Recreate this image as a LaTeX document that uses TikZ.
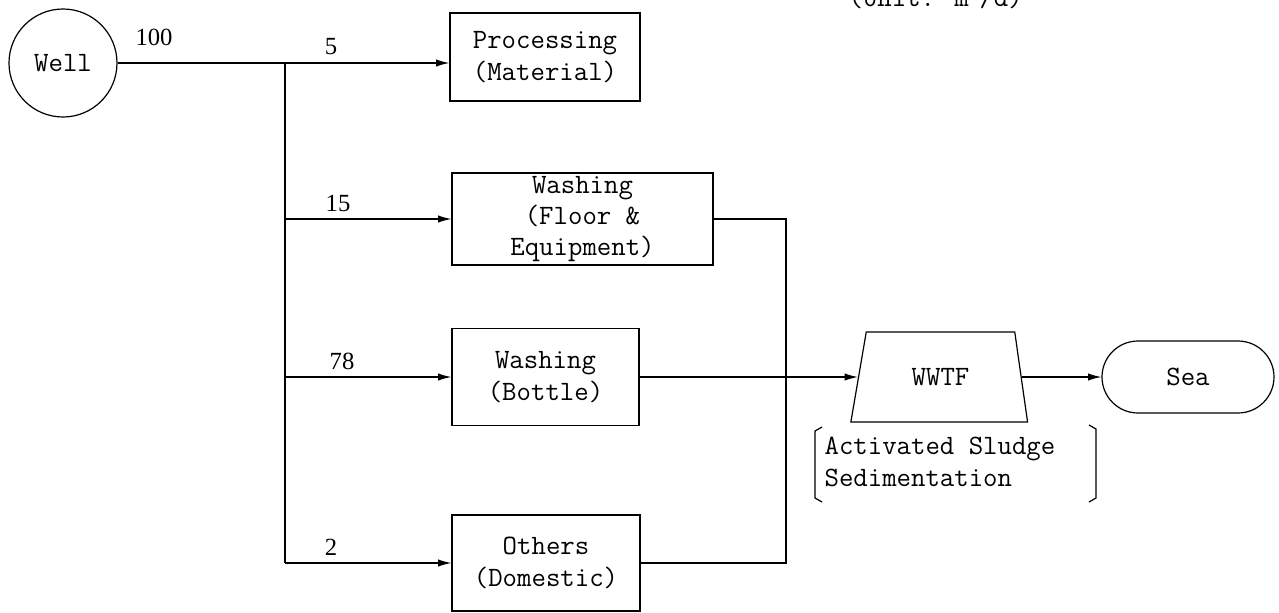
\documentclass[tikz,border=0pt]{standalone}
\usepackage{fontspec}
\usetikzlibrary{arrows.meta,shapes.geometric,shapes.misc}
\newfontfamily\numfont{Liberation Serif}
\begin{document}
\begin{tikzpicture}[x=0.75pt,y=-0.75pt,
  line width=0.9pt,
  flow/.style={-{Latex[length=10pt,width=5.5pt]}},
  txt/.style={font=\ttfamily\fontsize{21}{23.5}\selectfont, align=center},
  unitbox/.style={draw, rectangle, txt, inner sep=0pt},
  qty/.style={font=\numfont\fontsize{18.5}{20}\selectfont, anchor=base, inner sep=0pt},
]
\useasboundingbox (0,0) rectangle (1279,612);

% unit note (top edge)
\node[txt, anchor=base west, inner sep=0pt] (unit) at (848,6) {(Unit: m\textsuperscript{3}/d)};

% source
\node[draw, circle, txt, minimum size=81pt, inner sep=0pt] (well) at (63,63) {Well};

% water uses
\node[unitbox, minimum width=142.5pt, minimum height=66pt] (proc) at (545,57) {Processing\\(Material)};
\node[unitbox, minimum width=195.75pt, minimum height=69pt] (floor) at (582.5,219) {Washing\\(Floor \&\\Equipment)};
\node[unitbox, minimum width=140.25pt, minimum height=72.75pt] (bottle) at (545.5,377) {Washing\\(Bottle)};
\node[unitbox, minimum width=141pt, minimum height=72pt] (others) at (546,563) {Others\\(Domestic)};

% treatment and discharge
\node[draw, trapezium, trapezium stretches=true, trapezium left angle=71, trapezium right angle=74,
      minimum width=132.75pt, minimum height=67.5pt, inner sep=0pt, txt] (wwtf) at (940.5,377) {WWTF};
\node[draw, rounded rectangle, minimum width=129pt, minimum height=54pt, inner sep=0pt, txt] (sea) at (1188,377) {Sea};

% treatment process note with brackets
\node[txt, align=left, anchor=west, inner sep=0pt] (note) at (824,462) {Activated Sludge\\Sedimentation};
\draw (822,427) -- (815,431) -- (815,498) -- (822,502);
\draw (1089,425) -- (1096,429) -- (1096,498) -- (1089,502);

% distribution header
\coordinate (jtop) at (285,63);
\coordinate (jbot) at (285,563);
\draw[flow] (well.east) -- (well.east -| proc.west);
\draw (jtop) -- (jbot);
\draw[flow] (jtop |- floor.west) -- (floor.west);
\draw[flow] (jtop |- bottle.west) -- (bottle.west);
\draw[flow] (jbot) -- (others.west);

% flow quantities
\node[qty] (q100) at (154,45) {100};
\node[qty] (q5) at (331,54) {5};
\node[qty] (q15) at (338,211) {15};
\node[qty] (q78) at (342,369) {78};
\node[qty] (q2) at (331,555) {2};

% wastewater collection
\coordinate (cbot) at (786,563);
\draw (floor.east) -| (cbot) -- (others.east);
\draw[flow] (bottle.east) -- (wwtf.left side);
\draw[flow] (wwtf.right side) -- (sea.west);
\end{tikzpicture}
\end{document}
